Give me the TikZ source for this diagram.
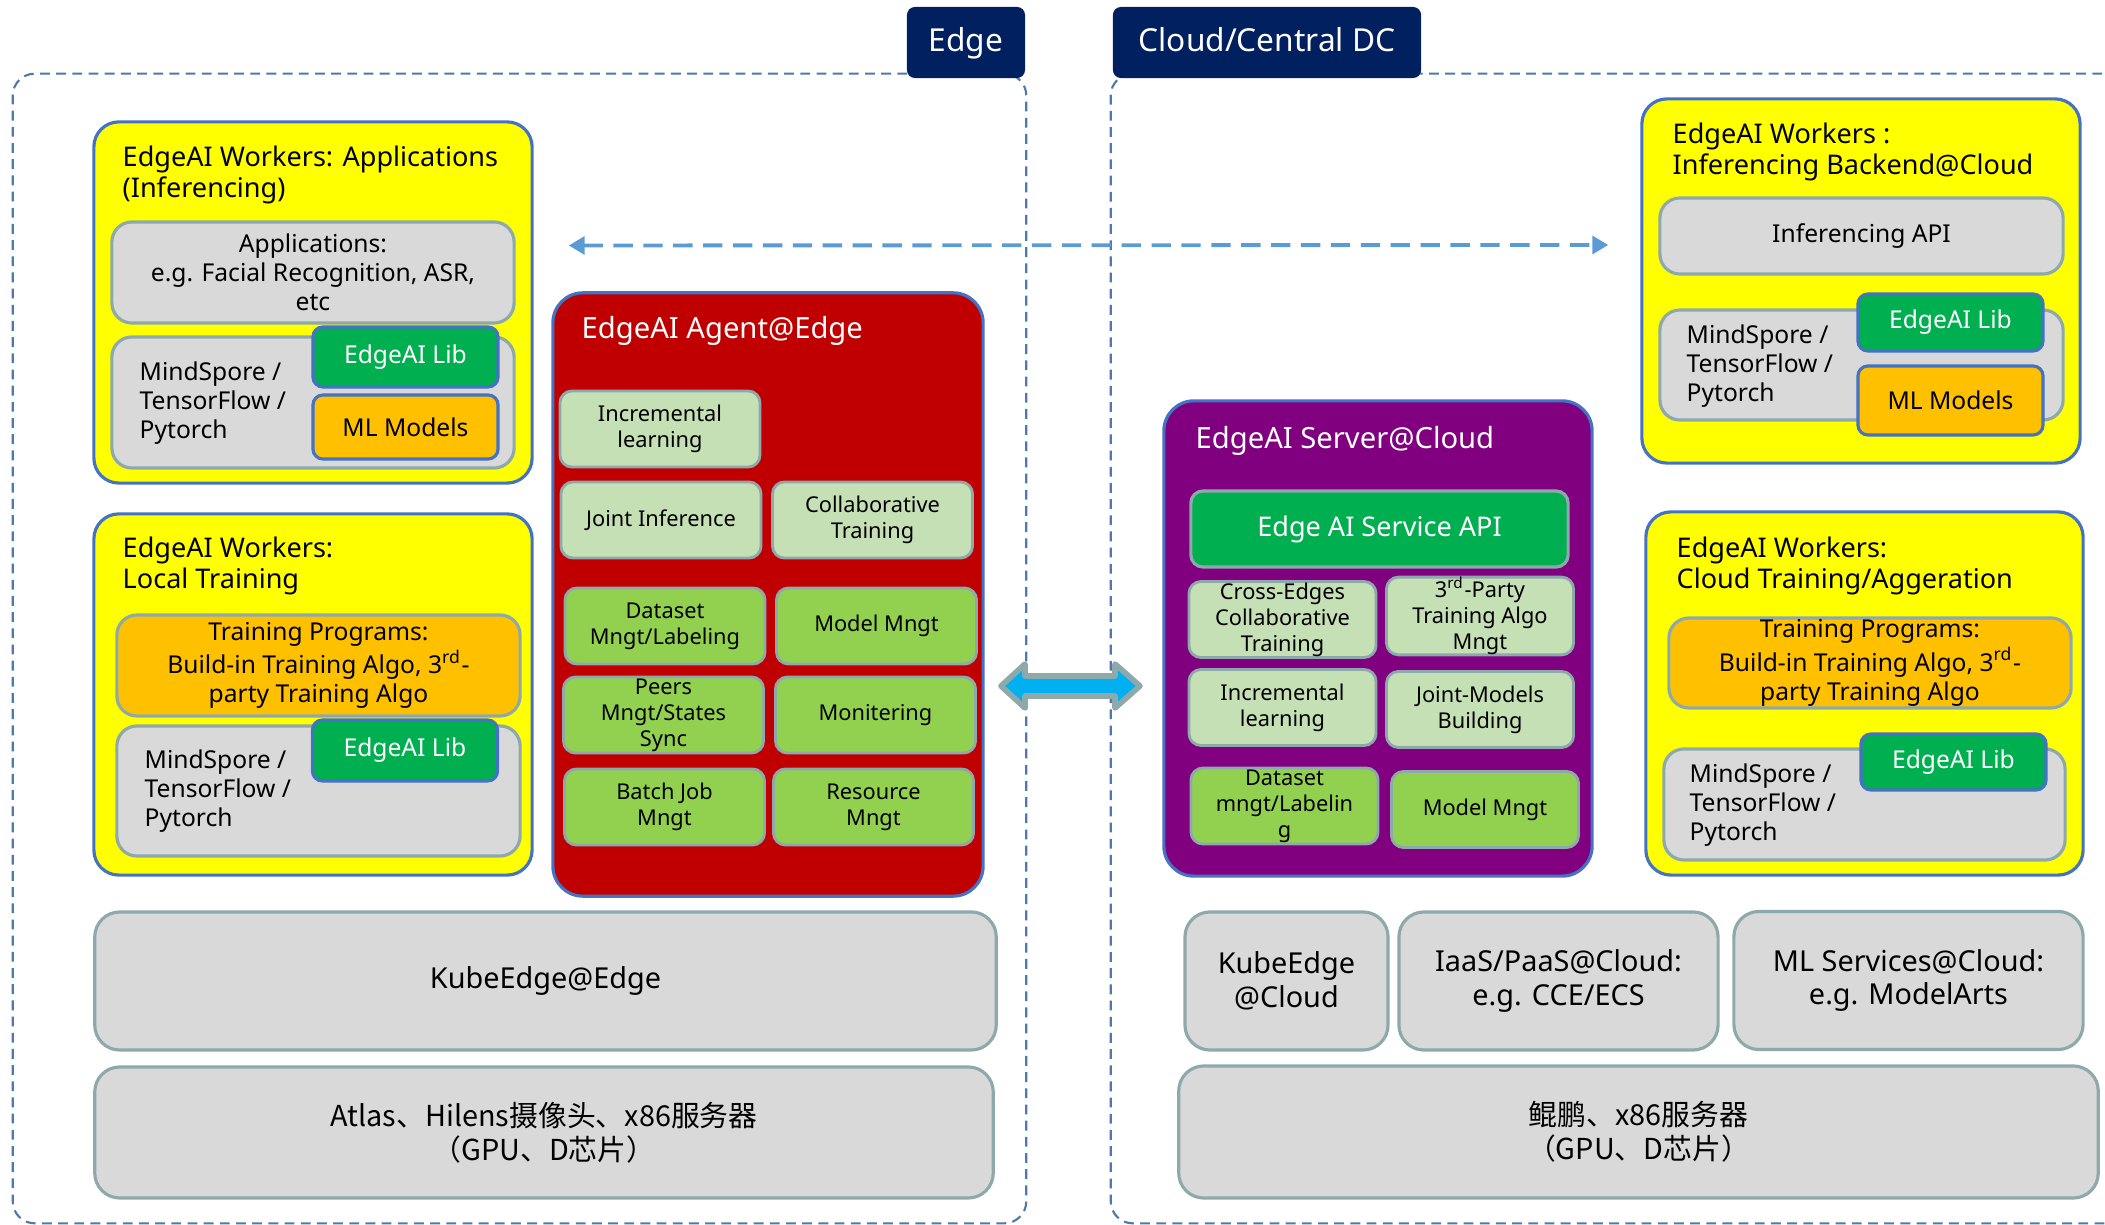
\documentclass[tikz,border=0pt]{standalone}
\usepackage{xcolor}
\usepackage{fontspec}
\setmainfont{Noto Sans}
\newfontfamily\cjk{Noto Sans CJK SC}
\usepackage{tikz}
\usetikzlibrary{arrows.meta, positioning}

\definecolor{navy}{HTML}{002060}
\definecolor{dashblue}{HTML}{4F79AA}
\definecolor{wyellow}{HTML}{FFFF00}
\definecolor{wblue}{HTML}{4472C4}
\definecolor{lgray}{HTML}{D9D9D9}
\definecolor{gborder}{HTML}{8EA9AB}
\definecolor{libgreen}{HTML}{00B050}
\definecolor{morange}{HTML}{FFC000}
\definecolor{agentred}{HTML}{C00000}
\definecolor{srvpurple}{HTML}{800080}
\definecolor{lgreen}{HTML}{C5E0B4}
\definecolor{mgreen}{HTML}{92D050}
\definecolor{arrowblue}{HTML}{00B0F0}
\definecolor{linkblue}{HTML}{5B9BD5}

\begin{document}
\begin{tikzpicture}[
    x=0.01cm, y=-0.01cm,
    region/.style={draw=dashblue, line width=0.6pt, dash pattern=on 2.8pt off 1.8pt, rounded corners=0.22cm, inner sep=0pt},
    tab/.style={fill=navy, rounded corners=0.08cm, text=white, font=\fontsize{9}{11}\selectfont, inner sep=0pt, minimum height=0.71cm, text height=6.4pt, text depth=1pt},
    worker/.style={draw=wblue, fill=wyellow, line width=0.9pt, rounded corners=0.25cm, inner sep=0pt},
    wtitle/.style={font=\fontsize{7.7}{8.8}\selectfont, align=left, anchor=west, inner sep=0pt},
    body/.style={font=\fontsize{7}{8.2}\selectfont, align=left, anchor=west, inner sep=0pt},
    gbox/.style={draw=gborder, fill=lgray, line width=0.9pt, rounded corners=0.2cm, inner sep=0pt, align=center, font=\fontsize{7}{8.2}\selectfont},
    prog/.style={gbox, fill=morange},
    lib/.style={draw=wblue, fill=libgreen, line width=0.9pt, rounded corners=0.1cm, inner sep=0pt, text=white, font=\fontsize{7}{8.2}\selectfont, minimum width=1.85cm},
    mlbox/.style={lib, fill=morange, text=black},
    core/.style={draw=wblue, line width=0.9pt, rounded corners=0.3cm, inner sep=0pt},
    ctitle/.style={text=white, font=\fontsize{8.3}{10}\selectfont, anchor=west, inner sep=0pt},
    cell/.style={draw=gborder, fill=lgreen, line width=0.8pt, rounded corners=0.12cm, inner sep=0pt, align=center, font=\fontsize{6.2}{7.4}\selectfont, minimum width=2cm, minimum height=0.76cm},
    cellg/.style={cell, fill=mgreen},
    scell/.style={cell, minimum width=1.87cm},
    scellg/.style={scell, fill=mgreen},
    base/.style={gbox, rounded corners=0.25cm, font=\fontsize{8.2}{9.6}\selectfont, minimum height=1.38cm},
    link/.style={draw=linkblue, line width=1.1pt, dash pattern=on 5.5pt off 3pt, {Triangle[length=4.5pt,width=5pt]}-{Triangle[length=4.5pt,width=5pt]}},
    bigarrow/.style={draw=gborder, fill=arrowblue, line width=1.6pt, line join=round}
]
\useasboundingbox (0,0) rectangle (2105,1225);

% Regions
\node[region, minimum width=10.13cm, minimum height=11.49cm] (edgeR) at (519.5,648.5) {};
\node[region, minimum width=10.29cm, minimum height=11.49cm] (cloudR) at (1625.5,648.5) {};
\node[tab, minimum width=1.18cm] (tabE) at (966,42.5) {Edge};
\node[tab, minimum width=3.08cm] (tabC) at (1267,42.5) {Cloud/Central DC};

% Edge: inferencing workers
\node[worker, minimum width=4.38cm, minimum height=3.61cm] (w1) at (313,302.5) {};
\node[wtitle] (w1t) at (122,175) {EdgeAI Workers: Applications\\(Inferencing)};
\node[gbox, minimum width=4.02cm, minimum height=1.01cm] (apps) at (313,272.5) {Applications:\\e.g. Facial Recognition, ASR,\\etc};
\node[gbox, minimum width=4.02cm, minimum height=1.31cm] (fw1) at (313,402.5) {};
\node[body] (fw1t) at (139,403) {MindSpore /\\TensorFlow /\\Pytorch};
\node[lib, minimum height=0.6cm] (lib1) at (405.5,357) {EdgeAI Lib};
\node[mlbox, minimum height=0.64cm] (ml1) at (405.5,427) {ML Models};

% Edge: local training workers
\node[worker, minimum width=4.38cm, minimum height=3.61cm] (w2) at (313,694.5) {};
\node[wtitle] (w2t) at (122,566) {EdgeAI Workers:\\Local Training};
\node[prog, minimum width=4.03cm, minimum height=1.01cm] (tp1) at (318.5,665.5) {Training Programs:\\Build-in Training Algo, 3\textsuperscript{rd}-\\party Training Algo};
\node[gbox, minimum width=4.03cm, minimum height=1.3cm] (fw2) at (318.5,791) {};
\node[body] (fw2t) at (144,791) {MindSpore /\\TensorFlow /\\Pytorch};
\node[lib, minimum height=0.61cm] (lib2) at (405,750.5) {EdgeAI Lib};

% Edge agent
\node[core, fill=agentred, minimum width=4.3cm, minimum height=6.03cm] (agent) at (768,594.5) {};
\node[ctitle] (agentt) at (581,331) {EdgeAI Agent@Edge};
\node[cell] (a1) at (660,429) {Incremental\\learning};
\node[cell] (a2) at (661,520) {Joint Inference};
\node[cell] (a3) at (872.5,520) {Collaborative\\Training};
\node[cellg] (a4) at (665,626) {Dataset\\Mngt/Labeling};
\node[cellg] (a5) at (876.5,626) {Model Mngt};
\node[cellg] (a6) at (663.5,715) {Peers\\Mngt/States\\Sync};
\node[cellg] (a7) at (875.5,715) {Monitering};
\node[cellg] (a8) at (664.5,807) {Batch Job\\Mngt};
\node[cellg] (a9) at (873.5,807) {Resource\\Mngt};

% Edge base layers
\node[base, minimum width=9.01cm] (kedge) at (545.5,981) {KubeEdge@Edge};
\node[base, minimum width=8.98cm, minimum height=1.31cm] (hwedge) at (544,1132.5) {{\cjk Atlas、Hilens摄像头、x86服务器}\\{\cjk （GPU、D芯片）}};

% Cloud: inferencing backend
\node[worker, minimum width=4.38cm, minimum height=3.64cm] (wb1) at (1861,281) {};
\node[wtitle] (wb1t) at (1672,152) {EdgeAI Workers :\\Inferencing Backend@Cloud};
\node[gbox, minimum width=4.03cm, minimum height=0.76cm] (infapi) at (1861.5,236) {Inferencing API};
\node[gbox, minimum width=4.03cm, minimum height=1.1cm] (fw3) at (1861.5,365) {};
\node[body] (fw3t) at (1686,366) {MindSpore /\\TensorFlow /\\Pytorch};
\node[lib, minimum height=0.57cm] (lib3) at (1950.5,322.5) {EdgeAI Lib};
\node[mlbox, minimum height=0.69cm] (ml3) at (1950.5,400.5) {ML Models};

% Cloud: training workers
\node[worker, minimum width=4.37cm, minimum height=3.63cm] (wb2) at (1864.5,693.5) {};
\node[wtitle] (wb2t) at (1676,566) {EdgeAI Workers:\\Cloud Training/Aggeration};
\node[prog, minimum width=4.02cm, minimum height=0.9cm] (tp2) at (1870,663) {Training Programs:\\Build-in Training Algo, 3\textsuperscript{rd}-\\party Training Algo};
\node[gbox, minimum width=4.01cm, minimum height=1.11cm] (fw4) at (1864.5,804.5) {};
\node[body] (fw4t) at (1689,805) {MindSpore /\\TensorFlow /\\Pytorch};
\node[lib, minimum height=0.56cm] (lib4) at (1953.5,762) {EdgeAI Lib};

% Cloud server
\node[core, fill=srvpurple, minimum width=4.28cm, minimum height=4.75cm] (server) at (1378,638.5) {};
\node[ctitle] (servert) at (1195,441) {EdgeAI Server@Cloud};
\node[gbox, fill=libgreen, text=white, rounded corners=0.12cm, font=\fontsize{7.7}{9}\selectfont, minimum width=3.77cm, minimum height=0.76cm] (api) at (1379.5,529) {Edge AI Service API};
\node[scell] (s1) at (1282.5,619.5) {Cross-Edges\\Collaborative\\Training};
\node[scell] (s2) at (1480,616) {3\textsuperscript{rd}-Party\\Training Algo\\Mngt};
\node[scell] (s3) at (1282.5,707.5) {Incremental\\learning};
\node[scell] (s4) at (1480,709.5) {Joint-Models\\Building};
\node[scellg] (s5) at (1284.5,806) {Dataset\\mngt/Labelin\\g};
\node[scellg] (s6) at (1485,809.5) {Model Mngt};

% Cloud base layers
\node[base, minimum width=2.03cm] (kcloud) at (1286.5,981) {KubeEdge\\@Cloud};
\node[base, minimum width=3.19cm] (iaas) at (1558.5,981) {IaaS/PaaS@Cloud:\\e.g. CCE/ECS};
\node[base, minimum width=3.49cm] (mls) at (1908.5,980.5) {ML Services@Cloud:\\e.g. ModelArts};
\node[base, minimum width=9.19cm, minimum height=1.32cm] (hwcloud) at (1638.5,1132) {{\cjk 鲲鹏、x86服务器}\\{\cjk （GPU、D芯片）}};

% Links
\draw[link] ([shift={(35,-57)}]w1.east) -- ([shift={(-32,-36)}]wb1.west);
\draw[bigarrow] (1001,686) -- (1025,664) -- (1025,676) -- (1115,676) -- (1115,664)
    -- (1140,686) -- (1115,708) -- (1115,696) -- (1025,696) -- (1025,708) -- cycle;

\end{tikzpicture}
\end{document}
